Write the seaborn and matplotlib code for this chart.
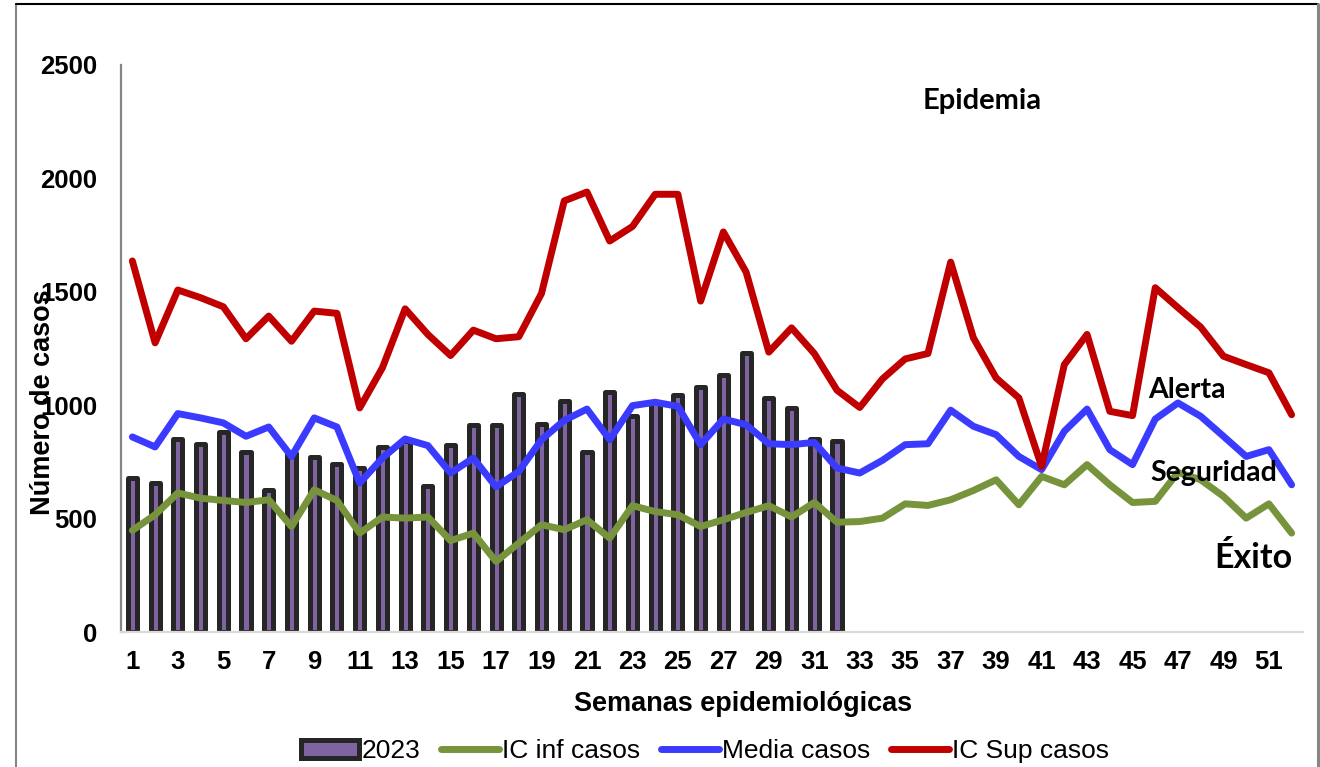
import matplotlib
matplotlib.use("Agg")
import matplotlib.pyplot as plt
import seaborn as sns
from matplotlib.lines import Line2D

# Datos
semanas = list(range(1, 53))
semanas_2023 = list(range(1, 33))
casos_2023 = [679, 657, 851, 829, 882, 792, 624, 790, 773, 741, 724, 816, 843, 642, 826, 914,
              912, 1051, 919, 1017, 794, 1057, 951, 1015, 1047, 1081, 1135, 1228, 1032, 988, 850, 844]
ic_inf = [448, 517, 613, 590, 580, 571, 583, 465, 627, 580, 436, 507, 502, 507, 403, 436,
          311, 392, 473, 451, 495, 414, 557, 531, 517, 465, 495, 527, 557, 507, 571, 484,
          487, 502, 565, 558, 583, 624, 671, 561, 686, 649, 738, 649, 571, 576, 704, 671,
          598, 502, 565, 436]
media = [860, 816, 963, 944, 922, 863, 904, 774, 944, 904, 657, 767, 851, 822, 701, 767,
         640, 708, 848, 933, 983, 848, 998, 1013, 995, 826, 939, 914, 830, 826, 836, 723,
         701, 757, 826, 830, 978, 907, 870, 774, 716, 885, 983, 804, 738, 939, 1010, 951,
         863, 774, 804, 649]
ic_sup = [1636, 1275, 1508, 1474, 1434, 1293, 1393, 1282, 1415, 1405, 988, 1165, 1425, 1312,
          1219, 1331, 1293, 1302, 1493, 1901, 1940, 1724, 1788, 1930, 1930, 1459, 1764, 1587,
          1234, 1341, 1228, 1066, 990, 1116, 1204, 1228, 1631, 1297, 1120, 1032, 730, 1179,
          1312, 973, 954, 1518, 1430, 1344, 1216, 1179, 1143, 958]
ticks_y = [0, 500, 1000, 1500, 2000, 2500]
ticks_x = list(range(1, 52, 2))

sns.set_style("white")
plt.rcParams["font.family"] = ["Liberation Sans", "DejaVu Sans"]
plt.rcParams["text.color"] = "black"

W, H = 1320, 767
fig = plt.figure(figsize=(W / 100, H / 100), dpi=100)
ax = fig.add_axes([121 / W, 1 - 632 / H, (1303 - 121) / W, (632 - 65) / H])

# Barras 2023
sns.barplot(x=semanas_2023, y=casos_2023, native_scale=True, orient="x", ax=ax,
            color="#8064A2", saturation=1, width=0.4, edgecolor="#262626",
            linewidth=3.6, label="2023", zorder=2)
for p in ax.patches:
    p.set_joinstyle("round")

# Líneas
estilo = dict(linewidth=5.0, solid_capstyle="round", solid_joinstyle="round", zorder=3)
sns.lineplot(x=semanas, y=ic_inf, color="#77933C", label="IC inf casos", ax=ax, **estilo)
sns.lineplot(x=semanas, y=media, color="#3B3BFF", label="Media casos", ax=ax, **estilo)
sns.lineplot(x=semanas, y=ic_sup, color="#C00000", label="IC Sup casos", ax=ax, **estilo)

ax.set_xlim(0.5, 52.5)
ax.set_ylim(0, 2500)
ax.set_xticks(ticks_x)
ax.set_xticklabels([str(t) for t in ticks_x], fontsize=18.5, fontweight="bold", color="black")
ax.set_yticks(ticks_y)
ax.set_yticklabels([str(t) for t in ticks_y], fontsize=18.5, fontweight="bold", color="black")
ax.tick_params(axis="both", length=0)
ax.tick_params(axis="y", pad=17)
ax.tick_params(axis="x", pad=13)
ax.grid(False)

for s in ["top", "right"]:
    ax.spines[s].set_visible(False)
ax.spines["left"].set_color("#868686")
ax.spines["left"].set_linewidth(1.6)
ax.spines["bottom"].set_color("#D9D9D9")
ax.spines["bottom"].set_linewidth(1.6)

ax.set_xlabel("Semanas epidemiológicas", fontsize=19.5, fontweight="bold", color="black")
ax.xaxis.set_label_coords((743 - 121) / (1303 - 121), (632 - 691) / 567)
ax.set_ylabel("Número de casos", fontsize=19.5, fontweight="bold", color="black")
ax.yaxis.set_label_coords((56 - 121) / (1303 - 121), (632 - 402) / 567)

handles, labels = ax.get_legend_handles_labels()
orden = [labels.index(n) for n in ["2023", "IC inf casos", "Media casos", "IC Sup casos"]]
handles = [handles[i] for i in orden]
labels = [labels[i] for i in orden]
if ax.get_legend() is not None:
    ax.get_legend().remove()
fig.legend(handles, labels, loc="center", bbox_to_anchor=(705 / W, 1 - 751 / H), ncol=4,
           frameon=False, fontsize=19, handlelength=2.2, handletextpad=0.1,
           columnspacing=0.8, handleheight=0.7)

# Zonas
zona = dict(family=["Lato", "DejaVu Sans"], fontweight="bold", color="black")
fig.text(982 / W, 1 - 109 / H, "Epidemia", ha="center", va="baseline", fontsize=21, **zona)
fig.text(1148 / W, 1 - 398 / H, "Alerta", ha="left", va="baseline", fontsize=20.5, **zona)
fig.text(1150 / W, 1 - 481 / H, "Seguridad", ha="left", va="baseline", fontsize=20.5, **zona)
fig.text(1292 / W, 1 - 568 / H, "Éxito", ha="right", va="baseline", fontsize=24.5, **zona)

# Marco exterior
fig.add_artist(Line2D([16 / W, 16 / W], [0, 1 - 4 / H], color="#868686", lw=1.5))
fig.add_artist(Line2D([16 / W, 1318 / W], [1 - 4 / H, 1 - 4 / H], color="black", lw=1.5))
fig.add_artist(Line2D([1318 / W, 1318 / W], [0, 1 - 4 / H], color="#868686", lw=2.2))

fig.savefig("out.png", dpi=100)
